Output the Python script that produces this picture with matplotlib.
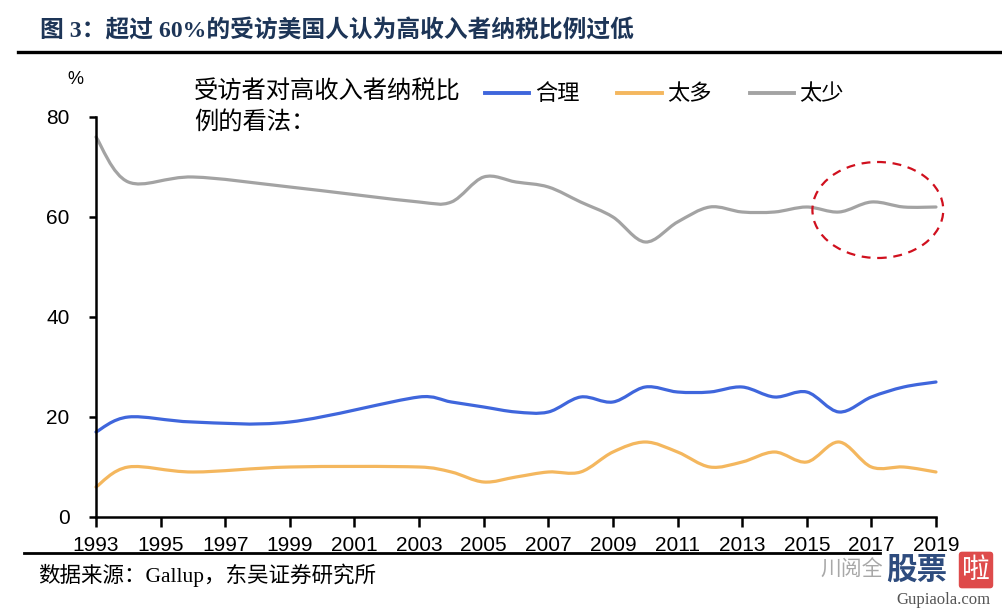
import numpy as np
import matplotlib
matplotlib.use("Agg")
import matplotlib.pyplot as plt
from matplotlib.path import Path
from matplotlib.patches import PathPatch, Ellipse
from matplotlib.lines import Line2D

# ===== DATOS =====
years = [1993, 1994, 1996, 1999, 2003, 2004, 2005, 2006, 2007, 2008, 2009, 2010,
         2011, 2012, 2013, 2014, 2015, 2016, 2017, 2018, 2019]
fair = [17, 20, 19, 19, 24, 23, 22, 21, 21, 24, 23, 26,
        25, 25, 26, 24, 25, 21, 24, 26, 27]          # 合理
too_much = [6, 10, 9, 10, 10, 9, 7, 8, 9, 9, 13, 15,
            13, 10, 11, 13, 11, 15, 10, 10, 9]       # 太多
too_little = [76, 67, 68, 66, 63, 63, 68, 67, 66, 63, 60, 55,
              59, 62, 61, 61, 62, 61, 63, 62, 62]    # 太少

series_names = ["合理", "太多", "太少"]
series_colors = ["#3F66DC", "#F4B75E", "#A3A3A3"]
xticks = list(range(1993, 2020, 2))
yticks = [0, 20, 40, 60, 80]

title = "图 3：超过 60%的受访美国人认为高收入者纳税比例过低"
legend_title = "受访者对高收入者纳税比\n例的看法："
source = "数据来源：Gallup，东吴证券研究所"

CJK = ["Noto Sans CJK SC", "DejaVu Sans"]
SANS = ["Liberation Sans", "DejaVu Sans"]
SERIF = ["Liberation Serif", "Noto Sans CJK SC"]


# ===== SUAVIZADO (como Excel) =====
def smooth_path(xs, ys):
    pts = np.column_stack([xs, ys]).astype(float)
    verts = [pts[0]]
    codes = [Path.MOVETO]
    n = len(pts)
    for i in range(n - 1):
        p0 = pts[i - 1] if i > 0 else pts[i]
        p1 = pts[i]
        p2 = pts[i + 1]
        p3 = pts[i + 2] if i + 2 < n else pts[i + 1]
        dx = p2[0] - p1[0]
        t1 = (p2 - p0) / 6.0
        t2 = (p3 - p1) / 6.0
        # evitar bucles cuando los tramos vecinos son mucho más largos
        if t1[0] > dx / 2:
            t1 = t1 * (dx / 2) / t1[0]
        if t2[0] > dx / 2:
            t2 = t2 * (dx / 2) / t2[0]
        verts += [p1 + t1, p2 - t2, p2]
        codes += [Path.CURVE4] * 3
    return Path(verts, codes)


# ===== FIGURA =====
fig = plt.figure(figsize=(10.02, 6.11), dpi=100)
W, H = 1002, 611
ax = fig.add_axes([96 / W, 1 - 517 / H, (936 - 96) / W, (517 - 117) / H])

for ys, c in zip([fair, too_much, too_little], series_colors):
    ax.add_patch(PathPatch(smooth_path(years, ys), fill=False, edgecolor=c,
                           lw=2.3, capstyle="round", joinstyle="round", clip_on=False))

ax.set_xlim(1993, 2019)
ax.set_ylim(0, 80)
ax.set_xticks(xticks)
ax.set_yticks(yticks)
for s in ["top", "right"]:
    ax.spines[s].set_visible(False)
for s in ["left", "bottom"]:
    ax.spines[s].set_linewidth(1.8)
ax.tick_params(axis="x", direction="out", length=7, width=1.8, pad=7, labelsize=15)
ax.tick_params(axis="y", direction="out", length=5, width=1.8, pad=14, labelsize=15)
for lab in ax.get_xticklabels() + ax.get_yticklabels():
    lab.set_family(SANS)

# círculo rojo
ax.add_patch(Ellipse((2017.2, 61.4), 4.05, 19.2, fill=False, edgecolor="#D0101E",
                     lw=1.6, ls=(0, (4, 3)), clip_on=False))

# "%"
fig.text(75 / W, 1 - 80 / H, "%", family=SANS, fontsize=13, ha="center", va="center")

# leyenda
fig.text(194 / W, 1 - 79 / H, legend_title, family=CJK, fontsize=17.5,
         ha="left", va="top", linespacing=1.2)
handles = [Line2D([], [], color=c, lw=2.8) for c in series_colors]
fig.legend(handles, series_names, loc="center left", bbox_to_anchor=(485 / W, 1 - 94 / H),
           ncol=3, frameon=False, borderpad=0, borderaxespad=0, handlelength=2.0,
           handletextpad=0.25, columnspacing=1.7, prop={"family": CJK, "size": 16})

# título
fig.text(40 / W, 1 - 31 / H, title, family=SERIF,
         fontsize=17.1, fontweight="bold", color="#1D3557", ha="left", va="center")
fig.add_artist(Line2D([18 / W, 1.0], [1 - 52 / H] * 2, color="black", lw=2.4))

# fuente
fig.add_artist(Line2D([24 / W, 880 / W], [1 - 553 / H] * 2, color="black", lw=2.0))
fig.text(38 / W, 1 - 575 / H, source, family=SERIF,
         fontsize=15.5, ha="left", va="center")

# marca de agua
fig.text(820 / W, 1 - 570 / H, "川阅全", family=CJK, fontsize=15, color="#A8A8A8",
         ha="left", va="center")
fig.text(886 / W, 1 - 570 / H, "股票", family=CJK, fontsize=22, fontweight="bold",
         color="#2E4C7E", ha="left", va="center")
fig.text(976 / W, 1 - 570 / H, "啦", family=CJK, fontsize=20, color="white",
         ha="center", va="center",
         bbox=dict(boxstyle="round,pad=0.12", fc="#DE4B4B", ec="none"))
fig.text(943 / W, 1 - 600 / H, "Gupiaola.com", family=["Liberation Serif"], fontsize=12,
         color="#555555", ha="center", va="center")

fig.savefig("out.png", dpi=100)
